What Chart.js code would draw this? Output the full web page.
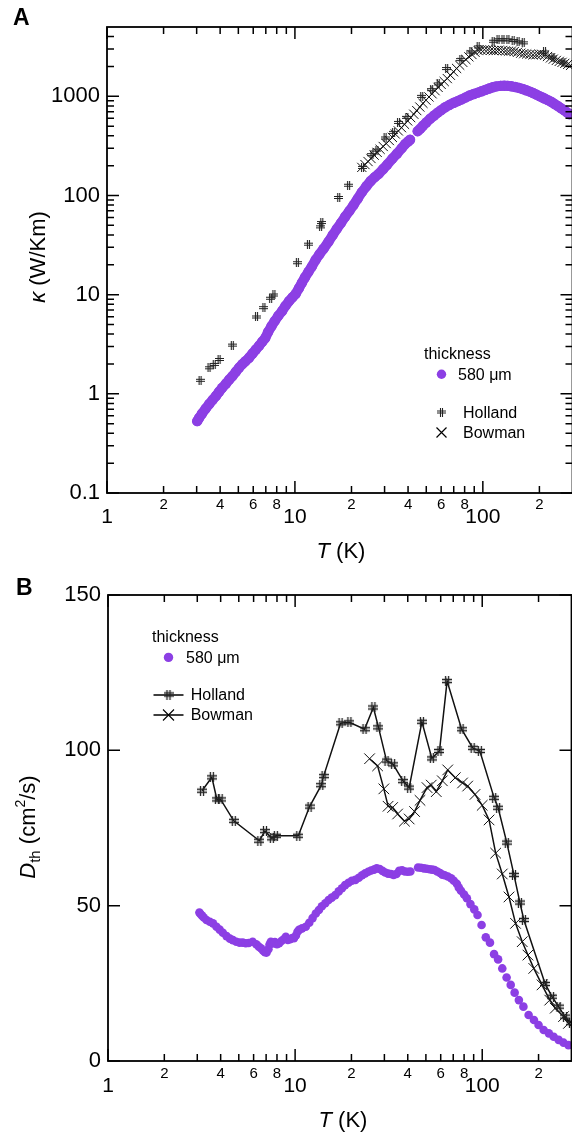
<!DOCTYPE html>
<html>
<head>
<meta charset="utf-8">
<script src="https://cdn.jsdelivr.net/npm/chart.js@4.4.1/dist/chart.umd.min.js"></script>
<style>
  html, body { margin: 0; padding: 0; background: #fff; overflow: hidden; width: 572px; height: 1140px; }
  .box { width: 580px; height: 570px; }
  canvas { display: block; }
</style>
</head>
<body>
<div class="box"><canvas id="chartA" width="580" height="570"></canvas></div>
<div class="box"><canvas id="chartB" width="580" height="570"></canvas></div>
<script>
// ---- data: [T (K), value] ----
// panel A: thermal conductivity kappa (W/Km)
var kappa580 = [[3.02,0.53],[3.09,0.57],[3.2,0.63],[3.35,0.71],[3.5,0.79],[3.65,0.87],[3.8,0.95],[3.95,1.05],[4.1,1.15],[4.3,1.27],
  [4.47,1.39],[4.65,1.51],[4.85,1.67],[5.05,1.84],[5.25,1.99],[5.45,2.13],[5.7,2.31],[5.95,2.55],[6.2,2.8],[6.45,3.05],
  [6.7,3.35],[6.95,3.65],[7.2,4.2],[7.5,4.8],[7.8,5.4],[8.15,6.1],[8.55,6.84],[8.9,7.7],[9.3,8.6],[9.7,9.4],
  [10.1,10.2],[10.5,11.6],[10.9,13.2],[11.3,14.9],[11.8,17],[12.3,19.2],[12.9,22.5],[13.5,25.5],[14.2,29],[15.1,34.3],
  [15.9,40],[16.7,46],[17.6,53],[18.5,61],[19.5,70],[20.5,80],[21.6,93],[22.7,108],[24,124],[25.3,140],
  [26.6,153],[27.9,165],[29.5,185],[31,205],[33,235],[35,265],[37,300],[38.6,330],[40,350],[41,365],
  [45,445],[46.5,472],[48,505],[50,545],[52.5,595],[55,640],[57.5,685],[60,725],[63,775],[66.5,820],
  [70,860],[73.5,895],[77,930],[81,975],[85,1020],[89.5,1055],[94,1090],[98.5,1125],[103,1160],[108,1200],
  [113,1235],[118,1260],[124,1275],[130,1280],[136,1275],[142,1262],[149,1240],[156,1215],[163,1185],[170,1150],
  [178,1115],[185,1080],[193,1040],[200,1005],[207,975],[213,950],[222,915],[231,880],[240,840],[250,800],
  [260,760],[270,725],[280,690],[290,660]];
var kappaHolland = [[3.13,1.37],[3.49,1.83],[3.72,1.98],[3.95,2.22],[4.64,3.1],[6.25,5.96],[6.84,7.39],[7.43,9.2],[7.73,9.93],
  [10.3,21],[11.8,32.3],[13.7,48.3],[13.9,53.4],[17.1,95.5],[19.3,127],[22.9,192],[25.7,258],[27.3,287],[30.2,380],
  [33.5,433],[35.6,546],[39.4,614],[47.3,1000],[53.4,1167],[57.9,1334],[64.2,1905],[76.4,2345],[86.3,2800],[94.4,3148],
  [113.5,3593],[120.5,3715],[128,3715],[136,3715],[145,3654],[154,3543],[164,3460],[213,2800],[236,2490],[267,2217]];
var kappaBowman = [[22.7,192],[23.6,205],[24.5,220],[25.4,236],[26.4,255],[27.4,272],[28.4,292],[29.5,312],[30.6,334],[31.8,358],
  [33,385],[34.2,417],[35.5,448],[36.9,483],[38.3,522],[39.8,565],[41.3,610],[42.9,660],[44.5,718],[46.2,780],
  [48,850],[49.8,915],[51.7,985],[53.7,1060],[55.7,1140],[57.8,1230],[60,1320],[62.3,1410],[64.7,1510],[67.2,1630],
  [69.8,1770],[72.5,1910],[75.3,2060],[78.2,2200],[81.2,2350],[84.3,2500],[87.5,2640],[90.9,2780],[94.4,2896],[98,2930],
  [102,2950],[106,2940],[110,2910],[114,2890],[118,2900],[122,2920],[127,2900],[132,2870],[137,2850],[142,2860],
  [147,2830],[153,2780],[159,2720],[165,2690],[171,2670],[178,2640],[185,2620],[192,2630],[199,2660],[206,2650],
  [213,2600],[221,2520],[229,2440],[237,2370],[246,2300],[255,2250],[264,2200],[273,2150],[283,2100],[293,2050]];

// panel B: thermal diffusivity D_th (cm^2/s)
var dth580 = [[3.08,47.8],[3.12,47.3],[3.18,46.8],[3.25,46.2],[3.36,45.4],[3.5,44.8],[3.64,44.3],[3.8,43.2],[3.95,42.3],[4.11,41.3],
  [4.3,40.2],[4.48,39.4],[4.65,38.9],[4.85,38.4],[5.05,38.1],[5.25,38.1],[5.45,37.9],[5.65,38.0],[5.93,38.4],[6.2,37.6],
  [6.4,36.8],[6.57,36.3],[6.75,35.5],[6.9,35.0],[7.04,34.9],[7.2,36.0],[7.3,37.5],[7.42,38.4],[7.6,37.8],[7.8,38.3],
  [8.0,37.6],[8.22,37.9],[8.45,38.6],[8.7,39.2],[8.92,40.0],[9.15,39.0],[9.4,39.2],[9.65,39.6],[9.86,39.5],[10.1,40.4],
  [10.3,41.6],[10.5,42.2],[10.9,42.7],[11.4,43.2],[11.9,44.5],[12.4,46.0],[12.9,47.5],[13.4,48.6],[13.9,49.8],[14.5,50.8],
  [15.1,51.8],[15.7,52.6],[16.4,53.4],[17.1,54.6],[17.8,55.6],[18.5,56.6],[19.3,57.4],[20.1,58.0],[21.0,58.3],[21.9,59.0],
  [22.8,59.8],[23.7,60.4],[24.6,60.9],[25.5,61.3],[26.4,61.6],[27.3,62.0],[28.3,61.8],[29.3,61.2],[30.3,60.7],[31.4,60.3],
  [32.5,60.2],[33.6,59.9],[34.8,60.2],[36.0,61.2],[37.3,61.4],[38.6,61.0],[40.0,60.9],[41.3,61.0],[45.4,62.3],[47.0,62.2],
  [48.8,62.0],[50.5,61.9],[52.3,61.7],[54.0,61.6],[55.6,61.5],[57.5,61.0],[59.5,60.5],[61.2,60.0],[63.0,59.8],[65.5,59.4],
  [68.2,58.8],[70.5,58.0],[73.3,57.0],[75.0,55.8],[77.0,54.8],[80.0,53.6],[82.8,52.4],[86.5,50.5],[90.7,48.8],[94.4,47.0],
  [99.2,43.8],[104.5,39.8],[110,38.1],[115.7,34.4],[121.6,32.7],[128,29.8],[135,26.9],[142,24.5],[149,22.0],[157,19.6],
  [166,17.5],[177,14.8],[189,13.2],[200,11.6],[213,10.0],[227,8.9],[241,7.8],[256,6.8],[272,5.9],[289,5.1]];
var dthHolland = [[3.18,87.0],[3.59,91.3],[3.82,84.2],[4.0,84.2],[4.7,77.3],[6.44,70.9],[6.9,74.0],[7.51,71.7],[7.89,72.5],
  [10.4,72.5],[11.95,81.9],[13.8,88.8],[14.2,91.7],[17.5,108.7],[19.5,109.0],[23.5,106.8],[26.2,113.8],[27.9,107.4],
  [30.8,96.7],[33.4,95.5],[37.8,90.1],[40.7,88.0],[47.6,109.2],[53.8,97.4],[59.1,99.8],[64.9,122.3],[77.6,106.8],
  [88.9,100.8],[97.1,99.8],[115.8,84.7],[121.6,81.5],[135.3,70.3],[147.8,59.9],[159,51.0],[167,45.4],[217,24.8],
  [236,20.7],[256,17.5],[277,14.3],[298,12.2]];
var dthBowman = [[25.0,97.3],[27.6,95.0],[29.8,87.6],[31.4,82.0],[33.2,81.6],[35.3,79.5],[38.4,77.2],[40.7,77.9],[43.5,80.3],
  [46.5,83.9],[50.7,88.0],[53.4,88.8],[56.8,86.7],[61.2,90.2],[65.4,93.7],[71.8,91.2],[78.5,89.5],[83.6,88.5],
  [91.5,85.8],[100,82.3],[108.8,77.6],[118,66.9],[128,60.2],[139,52.8],[150.7,44.3],[163.6,38.4],[175.5,34.1],
  [188.6,29.8],[208.8,24.5],[229.5,19.6],[245.6,17.0],[272,14.3],[289,12.1]];

// ---- ticks ----
var xTicksMajor = [1, 10, 100];
var xTicksMinor = [2, 3, 4, 5, 6, 7, 8, 9, 20, 30, 40, 50, 60, 70, 80, 90, 200];
var xTicksLabeled = [2, 4, 6, 8, 20, 40, 60, 80, 200];
var kappaTicks = [0.1, 1, 10, 100, 1000];
var dthTicks = [0, 50, 100, 150];

var purple = '#8c3fe4';
var FAM = '"Liberation Sans", Arial, Helvetica, sans-serif';
function font(px, style) { return (style ? style + ' ' : '') + px + 'px ' + FAM; }

function pts(arr) { return arr.map(function (p) { return { x: p[0], y: p[1] }; }); }

// "#" marker used for Holland
function hashMarker(size, lw) {
  var c = document.createElement('canvas');
  c.width = size; c.height = size;
  var g = c.getContext('2d');
  g.strokeStyle = '#222';
  g.lineWidth = lw;
  var a = Math.round(size * 0.33) + 0.5, b = Math.round(size * 0.67) - 0.5;
  g.beginPath();
  g.moveTo(a, 0); g.lineTo(a, size);
  g.moveTo(b, 0); g.lineTo(b, size);
  g.moveTo(0, a); g.lineTo(size, a);
  g.moveTo(0, b); g.lineTo(size, b);
  g.stroke();
  return c;
}
var hashA = hashMarker(9, 1.1);
var hashB = hashMarker(10, 1.3);

function richText(ctx, parts, x, y, rot) {
  ctx.save();
  ctx.translate(x, y);
  if (rot) ctx.rotate(rot);
  ctx.textAlign = 'left';
  ctx.textBaseline = 'alphabetic';
  var w = 0;
  parts.forEach(function (p) { ctx.font = p.font; w += ctx.measureText(p.t).width; });
  var cx = -w / 2;
  parts.forEach(function (p) {
    ctx.font = p.font;
    ctx.fillText(p.t, cx, p.dy || 0);
    cx += ctx.measureText(p.t).width;
  });
  ctx.restore();
}

function drawCross(ctx, x, y, h) {
  ctx.beginPath();
  ctx.moveTo(x - h, y - h); ctx.lineTo(x + h, y + h);
  ctx.moveTo(x + h, y - h); ctx.lineTo(x - h, y + h);
  ctx.stroke();
}

// frame, inward ticks, labels, titles, legend
var framePlugin = {
  id: 'frame',
  afterDraw: function (chart, args, o) {
    var ctx = chart.ctx, a = chart.chartArea, xs = chart.scales.x, ys = chart.scales.y;
    ctx.save();
    ctx.strokeStyle = '#000';
    ctx.fillStyle = '#000';
    ctx.lineWidth = 1.5;
    ctx.beginPath();
    function seg(x1, y1, x2, y2) { ctx.moveTo(x1, y1); ctx.lineTo(x2, y2); }
    xTicksMajor.forEach(function (v) {
      var p = xs.getPixelForValue(v);
      seg(p, a.bottom, p, a.bottom - 12); seg(p, a.top, p, a.top + 12);
    });
    xTicksMinor.forEach(function (v) {
      var p = xs.getPixelForValue(v);
      seg(p, a.bottom, p, a.bottom - 7); seg(p, a.top, p, a.top + 7);
    });
    o.yTicks.forEach(function (v) {
      var p = ys.getPixelForValue(v);
      seg(a.left, p, a.left + 12, p); seg(a.right, p, a.right - 12, p);
    });
    if (o.logY) {
      o.yTicks.forEach(function (d) {
        for (var k = 2; k <= 9; k++) {
          var v = d * k;
          if (v >= ys.max) continue;
          var p = ys.getPixelForValue(v);
          seg(a.left, p, a.left + 7, p); seg(a.right, p, a.right - 7, p);
        }
      });
    }
    ctx.stroke();
    ctx.lineWidth = 1.8;
    ctx.strokeRect(a.left, a.top, a.right - a.left, a.bottom - a.top);

    // tick labels
    ctx.textAlign = 'center';
    ctx.textBaseline = 'middle';
    ctx.font = font(15);
    xTicksLabeled.forEach(function (v) {
      var lead = Math.round(v / Math.pow(10, Math.floor(Math.log10(v) + 1e-9)));
      ctx.fillText(String(lead), xs.getPixelForValue(v), a.bottom + o.minorDy);
    });
    ctx.font = font(21);
    xTicksMajor.forEach(function (v) {
      ctx.fillText(String(v), xs.getPixelForValue(v), a.bottom + o.majorDy);
    });
    ctx.textAlign = 'right';
    ctx.font = font(22);
    o.yTicks.forEach(function (v) {
      ctx.fillText(String(v), a.left - 7, ys.getPixelForValue(v));
    });

    // panel letter
    ctx.textAlign = 'left';
    ctx.textBaseline = 'alphabetic';
    ctx.font = font(23, 'bold');
    ctx.fillText(o.letter, o.letterX, 25);

    // axis titles
    richText(ctx, [{ t: 'T', font: font(22, 'italic') }, { t: ' (K)', font: font(22) }], o.xTitleX, o.xTitleY);
    richText(ctx, o.yTitle, o.yTitleX, o.yTitleY, -Math.PI / 2);

    // legend
    var L = o.legend;
    ctx.textAlign = 'left';
    ctx.textBaseline = 'alphabetic';
    ctx.font = font(16);
    ctx.fillText('thickness', L.x0, L.y0);
    ctx.fillStyle = purple;
    ctx.beginPath();
    ctx.arc(L.mx, L.y1 - 5.3, 4.7, 0, Math.PI * 2);
    ctx.fill();
    ctx.fillStyle = '#000';
    ctx.fillText('580 \u03bcm', L.tx1, L.y1);
    ctx.fillText('Holland', L.tx2, L.y2);
    ctx.fillText('Bowman', L.tx2, L.y3);
    ctx.lineWidth = 1.2;
    if (L.lines) {
      ctx.lineWidth = 1.5;
      ctx.beginPath();
      seg(L.mx - 15, L.y2 - 5, L.mx + 15, L.y2 - 5);
      seg(L.mx - 15, L.y3 - 5, L.mx + 15, L.y3 - 5);
      ctx.stroke();
      ctx.lineWidth = 1.1;
    }
    var hm = L.lines ? hashB : hashA;
    ctx.drawImage(hm, L.mx - hm.width / 2, L.y2 - 5.5 - hm.height / 2);
    drawCross(ctx, L.mx, L.y3 - 5, L.crossH);
    ctx.restore();
  }
};

var common = {
  animation: false,
  responsive: false,
  devicePixelRatio: 1,
  events: [],
  plugins: { legend: { display: false }, tooltip: { enabled: false } }
};

new Chart(document.getElementById('chartA'), {
  type: 'scatter',
  data: {
    datasets: [
      // the 580 um points are so dense in the figure that they read as a thick band
      { data: pts(kappa580), pointRadius: 5.2, pointBackgroundColor: purple, pointBorderWidth: 0,
        showLine: true, borderColor: purple, borderWidth: 10, borderCapStyle: 'round', borderJoinStyle: 'round',
        segment: { borderColor: function (c) { return (c.p0.parsed.x < 42 && c.p1.parsed.x > 43) ? 'rgba(0,0,0,0)' : purple; } } },
      { data: pts(kappaHolland), pointStyle: hashA, pointRadius: 5, showLine: false },
      { data: pts(kappaBowman), pointStyle: 'crossRot', pointRadius: 6.5, pointBorderColor: '#111', pointBorderWidth: 1, showLine: false }
    ]
  },
  options: Object.assign({}, common, {
    layout: { padding: { left: 107, right: 5, top: 27, bottom: 77 } },
    scales: {
      x: { type: 'logarithmic', min: 1, max: 300, display: false },
      y: { type: 'logarithmic', min: 0.1, max: 5000, display: false }
    },
    plugins: Object.assign({}, common.plugins, {
      frame: {
        yTicks: kappaTicks, logY: true, minorDy: 11.5, majorDy: 24,
        letter: 'A', letterX: 13,
        xTitleX: 341, xTitleY: 558,
        yTitle: [{ t: '\u03ba', font: font(22, 'italic') }, { t: ' (W/Km)', font: font(22) }],
        yTitleX: 45, yTitleY: 257,
        legend: { x0: 424, y0: 359, mx: 441.5, tx1: 458, y1: 379.5, tx2: 463, y2: 417.5, y3: 437.5, crossH: 5, lines: false }
      }
    })
  }),
  plugins: [framePlugin]
});

new Chart(document.getElementById('chartB'), {
  type: 'scatter',
  data: {
    datasets: [
      { data: pts(dth580), pointRadius: 4.3, pointBackgroundColor: purple, pointBorderWidth: 0, showLine: false },
      { data: pts(dthHolland), pointStyle: hashB, pointRadius: 5, showLine: true, borderColor: '#111', borderWidth: 1.5, tension: 0 },
      { data: pts(dthBowman), pointStyle: 'crossRot', pointRadius: 7.5, pointBorderColor: '#111', pointBorderWidth: 1,
        showLine: true, borderColor: '#111', borderWidth: 1.5, tension: 0 }
    ]
  },
  options: Object.assign({}, common, {
    layout: { padding: { left: 108, right: 4, top: 25, bottom: 79 } },
    scales: {
      x: { type: 'logarithmic', min: 1, max: 300, display: false },
      y: { type: 'linear', min: 0, max: 150, display: false }
    },
    plugins: Object.assign({}, common.plugins, {
      frame: {
        yTicks: dthTicks, logY: false, minorDy: 12.5, majorDy: 25.5,
        letter: 'B', letterX: 16,
        xTitleX: 343, xTitleY: 557,
        yTitle: [{ t: 'D', font: font(22, 'italic') }, { t: 'th', font: font(15), dy: 5 },
                 { t: ' (cm', font: font(22) }, { t: '2', font: font(14), dy: -10 }, { t: '/s)', font: font(22) }],
        yTitleX: 35, yTitleY: 257,
        legend: { x0: 152, y0: 71.7, mx: 168.5, tx1: 186, y1: 92.7, tx2: 190.7, y2: 130, y3: 150, crossH: 5.5, lines: true }
      }
    })
  }),
  plugins: [framePlugin]
});
</script>
</body>
</html>
